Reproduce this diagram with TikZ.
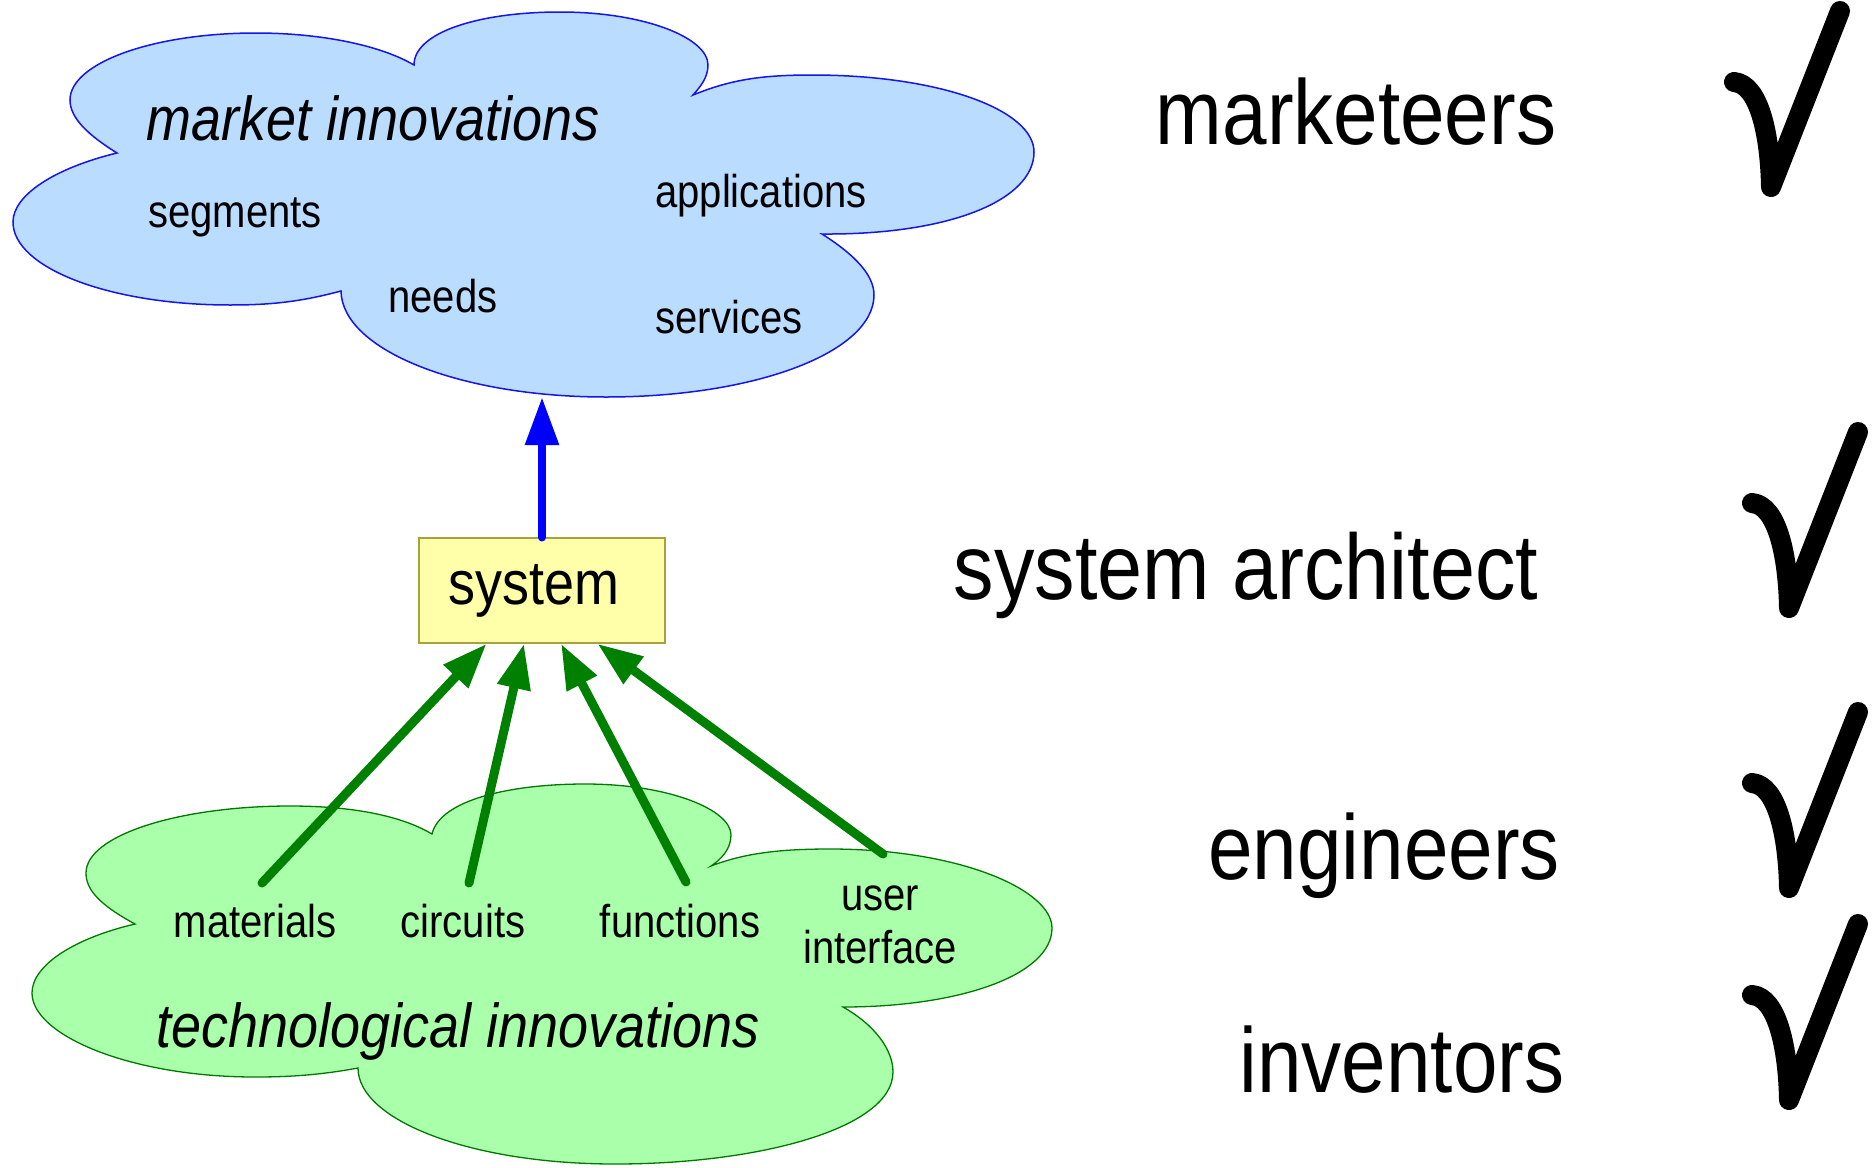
\documentclass[tikz,border=0pt]{standalone}
\usepackage{fontspec}
\setmainfont{Liberation Sans}[FakeStretch=0.87]
\usetikzlibrary{arrows.meta,calc}
\definecolor{cloudblue}{RGB}{185,220,255}
\definecolor{cloudblueline}{RGB}{20,20,235}
\definecolor{cloudgreen}{RGB}{170,255,170}
\definecolor{cloudgreenline}{RGB}{0,120,0}
\definecolor{arrowgreen}{RGB}{0,128,0}
\definecolor{boxyellow}{RGB}{255,255,170}
\definecolor{boxline}{RGB}{170,160,60}
\begin{document}
\begin{tikzpicture}[x=1pt,y=-1pt,
  bigtext/.style={font=\fontsize{92}{100}\selectfont, anchor=base, inner sep=0pt},
  smalltext/.style={font=\fontsize{46}{53}\selectfont, anchor=base, inner sep=0pt},
  titletext/.style={font=\fontsize{62}{70}\selectfont\itshape, anchor=base, inner sep=0pt},
  greenarrow/.style={draw=arrowgreen, line width=9pt, line cap=round, -{Triangle[length=45pt,width=32pt]}},
  bluearrow/.style={draw=blue, line width=8.5pt, line cap=round, -{Triangle[length=48pt,width=32pt]}},
  checkmark/.pic={\draw[line width=20pt, line cap=round, line join=round] (0,0) .. controls (25,2) and (36,52) .. (37,105) -- (106,-71);}
]
\useasboundingbox (0,0) rectangle (1876,1167);

% market cloud
\draw[draw=cloudblueline, fill=cloudblue, line width=1.5pt]
 (414,65) .. controls (414,32) and (480,12) .. (560,12)
 .. controls (645,12) and (708,38) .. (708,65)
 .. controls (708,78) and (700,87) .. (693,95)
 .. controls (730,80) and (760,75) .. (812,75)
 .. controls (940,75) and (1034,110) .. (1034,152)
 .. controls (1034,200) and (950,235) .. (822,234)
 .. controls (855,255) and (874,275) .. (874,295)
 .. controls (874,352) and (756,397) .. (606,397)
 .. controls (460,397) and (342,350) .. (341,291)
 .. controls (300,302) and (270,305) .. (230,305)
 .. controls (110,305) and (13,268) .. (13,222)
 .. controls (13,195) and (55,168) .. (117,153)
 .. controls (88,135) and (70,118) .. (70,100)
 .. controls (70,63) and (153,33) .. (256,33)
 .. controls (320,33) and (380,45) .. (414,65) -- cycle;

% technology cloud
\draw[draw=cloudgreenline, fill=cloudgreen, line width=1.3pt]
 (432,834) .. controls (440,800) and (510,784) .. (585,784)
 .. controls (670,784) and (731,810) .. (731,835)
 .. controls (731,850) and (720,860) .. (711,866)
 .. controls (745,853) and (780,849) .. (830,849)
 .. controls (960,849) and (1052,890) .. (1052,928)
 .. controls (1052,975) and (960,1007) .. (843,1007)
 .. controls (875,1025) and (893,1050) .. (893,1072)
 .. controls (893,1128) and (760,1164) .. (615,1164)
 .. controls (470,1164) and (358,1120) .. (358,1068)
 .. controls (320,1075) and (290,1077) .. (255,1077)
 .. controls (130,1077) and (32,1035) .. (32,993)
 .. controls (32,965) and (75,938) .. (135,924)
 .. controls (100,905) and (86,890) .. (86,873)
 .. controls (86,835) and (180,806) .. (290,806)
 .. controls (350,806) and (400,815) .. (432,834) -- cycle;

% market labels
\node[titletext] (mi) at (373,140) {market innovations};
\node[smalltext] (seg) at (235,227) {segments};
\node[smalltext] (app) at (761,207) {applications};
\node[smalltext] (need) at (443,312) {needs};
\node[smalltext] (serv) at (729,333) {services};

% technology labels
\node[smalltext] (mat) at (255,937) {materials};
\node[smalltext] (circ) at (463,937) {circuits};
\node[smalltext] (func) at (680,937) {functions};
\node[smalltext, align=center] (ui) at (880,963) {user\\interface};
\node[titletext] (ti) at (458,1047) {technological innovations};

% system box
\node[draw=boxline, fill=boxyellow, line width=1.5pt, minimum width=246pt, minimum height=105pt, inner sep=0pt, font=\fontsize{62}{70}\selectfont] (sys) at (542,590.5) {\raisebox{-3pt}{system}\kern16pt};

% connectors
\coordinate (mkt) at (542,397);
\coordinate (t1) at (262,883);
\coordinate (t2) at (469,883);
\coordinate (t3) at (686,882);
\coordinate (t4) at (883,854);
\draw[bluearrow] (sys.north) -- (mkt);
\draw[greenarrow] (t1) -- ($(sys.south west)!0.276!(sys.south east)$);
\draw[greenarrow] (t2) -- ($(sys.south west)!0.427!(sys.south east)$);
\draw[greenarrow] (t3) -- ($(sys.south west)!0.577!(sys.south east)$);
\draw[greenarrow] (t4) -- ($(sys.south west)!0.724!(sys.south east)$);

% roles
\node[bigtext] (mk) at (1356,144) {marketeers};
\node[bigtext, font=\fontsize{93}{100}\selectfont] (sa) at (1246,599) {system architect};
\node[bigtext] (en) at (1384,879) {engineers};
\node[bigtext] (inv) at (1402,1092) {inventors};

% checks
\pic at (1734,82) {checkmark};
\pic at (1752,503) {checkmark};
\pic at (1752,783) {checkmark};
\pic at (1752,995) {checkmark};
\end{tikzpicture}
\end{document}
